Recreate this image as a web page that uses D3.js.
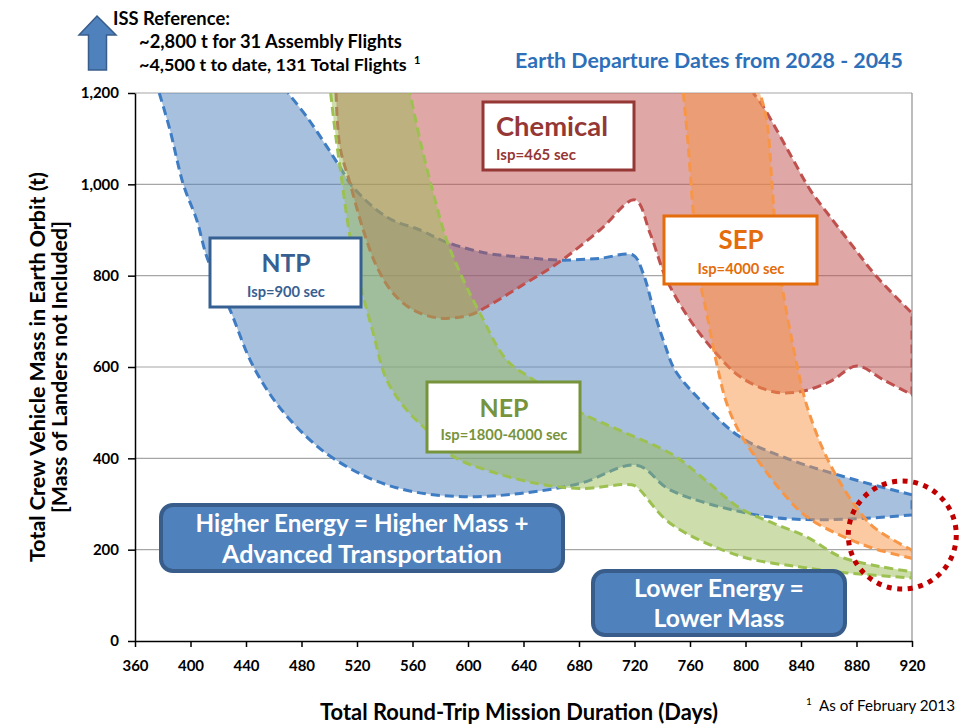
<!DOCTYPE html>
<html>
<head>
<meta charset="utf-8">
<script src="https://cdn.jsdelivr.net/npm/d3@7"></script>
<style>
  body { margin: 0; background: #fff; }
  svg { font-family: Lato, "Open Sans", sans-serif; }
</style>
</head>
<body>
<svg id="chart" width="966" height="726"></svg>
<script>
// boundaries of each propulsion band, [days, tonnes]
var ntpLower = [[377.5,1200],[385.2,1119],[394.8,1000],[404.5,922],[412.1,838],[428.5,725],[444.3,607],[462.1,520],[483.7,447],[502.9,400],[531.7,353],[560.6,327],[596.6,316],[637.5,323],[680.7,345],[721.6,385],[745.6,331],[800.9,280],[834.2,267],[875.3,267],[920,276]];
var ntpUpper = [[470.3,1200],[484,1147],[498.4,1082],[507.7,1038],[517.1,994],[541.6,928],[565.4,900],[584.9,873],[613.7,849],[637.5,841],[666.3,834],[695.1,838],[719,845],[726.1,806],[734.8,714],[742,648],[749.2,593],[767.2,528],[796,447],[834,395],[863,367],[892,342],[920,320]];

var chemLower = [[504.9,1200],[507.7,1082],[515,1002],[524.5,900],[534.2,820],[546.2,761],[560.6,725],[579.8,707],[601.4,714],[613.5,732],[637.5,776],[666.3,831],[695.1,900],[720.3,966],[731.2,893],[743.2,791],[760,703],[776.8,637],[796,579],[820,546],[839.4,546],[860.9,568],[880.1,602],[899.3,572],[920,539]];
var chemUpper = [[805.6,1200],[812.8,1170],[822.5,1119],[834.5,1053],[846.6,988],[861,929],[877.7,863],[894.5,798],[920,718]];

var nepLower = [[501,1200],[504.1,1119],[507.7,1039],[515,885],[522.2,783],[531.7,674],[541.4,572],[555.8,506],[570.2,462],[589.4,404],[613.5,374],[649.5,345],[680.7,334],[718,342],[722.8,334],[745.6,258],[796,186],[839.3,162],[873.2,149],[920,138]];
var nepUpper = [[558.2,1200],[565.4,1097],[575,980],[584.6,878],[596.6,791],[608.6,718],[627.9,615],[647.1,572],[680.7,501],[709.6,461],[748,407],[770.8,353],[796,291],[819.8,258],[844.1,228],[868.1,185],[896.9,163],[920,152]];

var sepLower = [[755.2,1200],[758.8,1082],[762.4,937],[767.2,790],[772,718],[779.2,608],[786.4,521],[796,455],[810.5,389],[827.3,323],[844.1,272],[868.1,232],[892.1,203],[920,181]];
var sepUpper = [[810.4,1200],[815.3,1141],[818.9,1010],[822.5,863],[827.2,761],[834.4,644],[841.7,542],[847.6,484],[856.1,418],[865.7,360],[877.7,302],[892.1,250],[920,199]];

var xTicks = d3.range(360, 921, 40);
var yTicks = [0, 200, 400, 600, 800, 1000, 1200];

var svg = d3.select("#chart");

var x = d3.scaleLinear().domain([360, 920]).range([135, 912]);
var y = d3.scaleLinear().domain([0, 1200]).range([641, 93]);

// shrink/grow a text's font so it spans the given width
function fit(sel, width) {
  var w = sel.node().getComputedTextLength();
  sel.attr("font-size", +sel.attr("font-size") * width / w);
  return sel;
}

// grid + frame
svg.append("g").selectAll("line").data(yTicks.slice(1)).enter().append("line")
  .attr("x1", x(360)).attr("x2", x(920))
  .attr("y1", d => y(d)).attr("y2", d => y(d))
  .attr("stroke", "#a6a6a6").attr("stroke-width", 1.2);
svg.append("line")
  .attr("x1", x(920)).attr("x2", x(920)).attr("y1", y(0)).attr("y2", y(1200))
  .attr("stroke", "#909090").attr("stroke-width", 1.2);

svg.append("clipPath").attr("id", "plotclip").append("rect")
  .attr("x", x(360)).attr("y", y(1200))
  .attr("width", x(920) - x(360)).attr("height", y(0) - y(1200));

var plot = svg.append("g").attr("clip-path", "url(#plotclip)");

var line = d3.line()
  .x(d => x(d[0])).y(d => y(d[1]))
  .curve(d3.curveCatmullRom.alpha(0.5));

function band(lower, upper, fill, stroke) {
  var outline = line(lower) + "L" + line(upper.slice().reverse()).slice(1);
  plot.append("path").attr("d", outline + "Z")
    .attr("fill", fill).attr("fill-opacity", 0.5);
  plot.append("path").attr("d", outline)
    .attr("fill", "none").attr("stroke", stroke)
    .attr("stroke-width", 3).attr("stroke-dasharray", "9,5");
}

band(ntpLower, ntpUpper, "#4f81bd", "#3e7cc4");
band(chemLower, chemUpper, "#c0504d", "#c0504d");
band(nepLower, nepUpper, "#9bbb59", "#9dc150");
band(sepLower, sepUpper, "#f79646", "#f79646");

// axes
var yAxis = svg.append("g").attr("transform", "translate(" + x(360) + ",0)")
  .call(d3.axisLeft(y).tickValues(yTicks).tickFormat(d3.format(",")).tickSize(7).tickPadding(9).tickSizeOuter(0));
var xAxis = svg.append("g").attr("transform", "translate(0," + y(0) + ")")
  .call(d3.axisBottom(x).tickValues(xTicks).tickSize(6).tickPadding(13).tickSizeOuter(0));
[yAxis, xAxis].forEach(function(a) {
  a.selectAll("path, line").attr("stroke", "#000").attr("stroke-width", 1.5);
  a.selectAll("text").attr("font-size", 15).attr("font-weight", "bold")
    .attr("fill", "#000").attr("font-family", "Lato, sans-serif");
});

// axis titles
fit(svg.append("text")
  .attr("transform", "translate(45,367) rotate(-90)")
  .attr("text-anchor", "middle").attr("font-size", 18).attr("font-weight", "bold")
  .text("Total Crew Vehicle Mass in Earth Orbit (t)"), 390);
fit(svg.append("text")
  .attr("transform", "translate(67,367) rotate(-90)")
  .attr("text-anchor", "middle").attr("font-size", 18).attr("font-weight", "bold")
  .text("[Mass of Landers not Included]"), 292);
fit(svg.append("text")
  .attr("x", 519).attr("y", 720)
  .attr("text-anchor", "middle").attr("font-size", 19).attr("font-weight", "bold")
  .text("Total Round-Trip Mission Duration (Days)"), 398);

// footnote
svg.append("text").attr("x", 806).attr("y", 705).attr("font-size", 10).text("1");
fit(svg.append("text").attr("x", 819).attr("y", 711).attr("font-size", 14)
  .text("As of February 2013"), 136);

// title
fit(svg.append("text")
  .attr("x", 709).attr("y", 68)
  .attr("text-anchor", "middle").attr("font-size", 18).attr("font-weight", "bold")
  .attr("fill", "#2e6fba")
  .text("Earth Departure Dates from 2028 - 2045"), 388);

// ISS reference
svg.append("polygon")
  .attr("points", "97,16 116,35 106.5,35 106.5,70 88.5,70 88.5,35 79,35")
  .attr("fill", "#4f81bd").attr("stroke", "#385d8a").attr("stroke-width", 1.5);
fit(svg.append("text").attr("x", 113).attr("y", 25).attr("font-size", 16).attr("font-weight", "bold")
  .text("ISS Reference:"), 117);
fit(svg.append("text").attr("x", 139).attr("y", 48).attr("font-size", 16).attr("font-weight", "bold")
  .text("~2,800 t for 31 Assembly Flights"), 263);
fit(svg.append("text").attr("x", 139).attr("y", 71).attr("font-size", 16).attr("font-weight", "bold")
  .text("~4,500 t to date, 131 Total Flights"), 268);
svg.append("text").attr("x", 414).attr("y", 64).attr("font-size", 11).attr("font-weight", "bold")
  .text("1");

// label boxes
function labelBox(x0, y0, x1, y1, color, big, bigW, bigY, small, smallW, smallY, cx, anchor) {
  svg.append("rect").attr("x", x0).attr("y", y0).attr("width", x1 - x0).attr("height", y1 - y0)
    .attr("fill", "#fff").attr("stroke", color).attr("stroke-width", 3);
  fit(svg.append("text").attr("x", cx).attr("y", bigY).attr("text-anchor", anchor)
    .attr("font-size", 25).attr("font-weight", "bold").attr("fill", color).text(big), bigW);
  fit(svg.append("text").attr("x", cx).attr("y", smallY).attr("text-anchor", anchor)
    .attr("font-size", 14).attr("font-weight", "bold").attr("fill", color).text(small), smallW);
}
labelBox(210, 238, 361, 307, "#376092", "NTP", 49, 272, "Isp=900 sec", 78, 297, 286, "middle");
labelBox(483, 102, 634, 170, "#953735", "Chemical", 112, 136, "Isp=465 sec", 80, 160, 496, "start");
labelBox(664, 216, 817, 284, "#e46c0a", "SEP", 45, 249, "Isp=4000 sec", 87, 274, 741, "middle");
labelBox(427, 382, 580, 452, "#77933c", "NEP", 49, 417, "Isp=1800-4000 sec", 127, 440, 504, "middle");

// energy callouts
function callout(x0, y0, x1, y1, lines, widths, baselines) {
  svg.append("rect").attr("x", x0).attr("y", y0).attr("width", x1 - x0).attr("height", y1 - y0)
    .attr("rx", 12).attr("fill", "#4f81bd").attr("stroke", "#385d8a").attr("stroke-width", 4);
  lines.forEach(function(t, i) {
    fit(svg.append("text").attr("x", (x0 + x1) / 2).attr("y", baselines[i])
      .attr("text-anchor", "middle").attr("font-size", 21).attr("font-weight", "bold")
      .attr("fill", "#fff").text(t), widths[i]);
  });
}
callout(161, 505, 563, 571, ["Higher Energy = Higher Mass +", "Advanced Transportation"], [333, 280], [532, 563]);
callout(593, 571, 845, 635, ["Lower Energy =", "Lower Mass"], [170, 131], [597, 627]);

// dotted highlight circle
svg.append("circle").attr("cx", x(913)).attr("cy", y(232)).attr("r", 54)
  .attr("fill", "none").attr("stroke", "#c00000").attr("stroke-width", 5)
  .attr("stroke-dasharray", "5,5.6");
</script>
</body>
</html>
